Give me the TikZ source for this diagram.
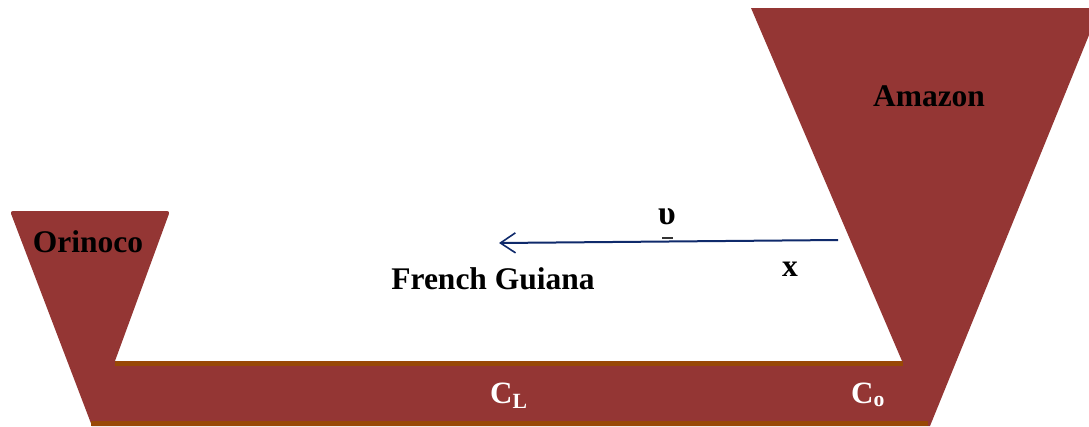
\documentclass[tikz,border=0pt]{standalone}
\usepackage{fontspec}
\setmainfont{Liberation Serif}
\usetikzlibrary{arrows.meta}
\definecolor{river}{HTML}{943634}
\definecolor{shore}{HTML}{984806}
\definecolor{arrowblue}{HTML}{0F2A6B}
\tikzset{
  lbl/.style={font=\fontsize{31.5}{36}\selectfont\bfseries, inner sep=0pt, anchor=base, text=black},
  wlbl/.style={font=\fontsize{31}{36}\selectfont\bfseries, inner sep=0pt, anchor=base west, text=white},
  shoreline/.style={draw=shore, line width=5pt},
}
\begin{document}
\begin{tikzpicture}[x=1pt,y=-1pt]
\useasboundingbox (0,0) rectangle (1089,426);
\clip (0,0) rectangle (1089,426);
% river system shape
\fill[river]
  (751,8) [rounded corners=3pt] -- (1100,8) [sharp corners] -- (930,426)
  -- (92,426) [rounded corners=3pt] -- (10,211) -- (170,211) [sharp corners]
  -- (115,361) -- (902,361) -- cycle;
% shorelines
\coordinate (tl) at (115,363.5);
\coordinate (tr) at (903,363.5);
\coordinate (bl) at (91,423.5);
\coordinate (br) at (928,423.5);
\draw[shoreline] (tl) -- (tr);
\draw[shoreline] (bl) -- (br);
% labels
\node[lbl] (amazon) at (929,106) {Amazon};
\node[lbl] (orinoco) at (88,252) {Orinoco};
\node[lbl] (fg) at (493,289) {French Guiana};
\node[lbl] (x) at (790,276) {x};
\node[lbl, font=\fontsize{34}{38}\selectfont\bfseries] (ups) at (667,224) {υ};
\coordinate (d1) at (662,238);
\coordinate (d2) at (673,238);
\draw[line width=2pt, black!80] (d1) -- (d2);
\node[wlbl] (cl) at (490,403) {C\textsubscript{L}};
\node[wlbl] (co) at (851,403) {C\textsubscript{o}};
% velocity arrow
\coordinate (as) at (838,240);
\coordinate (ae) at (499,243);
\draw[arrowblue, line width=2pt, -{Straight Barb[length=15pt,width=20pt,line width=1.6pt]}] (as) -- (ae);
\end{tikzpicture}
\end{document}
